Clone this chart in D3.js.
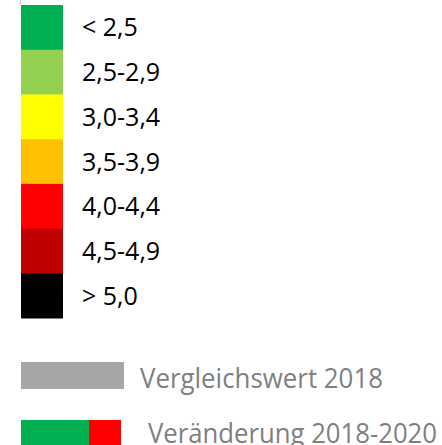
<!DOCTYPE html>
<html>
<head>
<meta charset="utf-8">
<script src="https://cdn.jsdelivr.net/npm/d3@7"></script>
<style>
  body { margin: 0; background: #fff; }
</style>
</head>
<body>
<script>
// legend classes
var classes = ['< 2,5', '2,5-2,9', '3,0-3,4', '3,5-3,9', '4,0-4,4', '4,5-4,9', '> 5,0']
var classColors = ['#00b050', '#92d050', '#ffff00', '#ffc000', '#ff0000', '#c00000', '#000000']

// bottom legend entries
var compareLabel = 'Vergleichswert 2018'
var compareColor = '#a6a6a6'
var changeLabel = 'Veränderung 2018-2020'
var changeParts = ['gut', 'schlecht']
var changeShares = [68, 32]
var changeColors = ['#00b050', '#ff0000']

var w = 442
var h = 445

var svg = d3.select('body')
  .append('svg')
  .attr('width', w)
  .attr('height', h)

var yScale = d3.scaleBand()
  .domain(classes)
  .range([5, 318])
  .padding(0)

// small tick above the bar
svg.append('line')
  .attr('x1', 20.5).attr('x2', 20.5)
  .attr('y1', 0).attr('y2', 4)
  .attr('stroke', '#d0d0d0')
  .attr('stroke-width', 1.5)

svg.selectAll('rect.cls')
  .data(classes)
  .enter()
  .append('rect')
  .attr('class', 'cls')
  .attr('x', 21)
  .attr('y', function (d) { return yScale(d) })
  .attr('width', 42)
  .attr('height', yScale.bandwidth() + 0.5)
  .attr('fill', function (d, i) { return classColors[i] })

svg.selectAll('text.cls')
  .data(classes)
  .enter()
  .append('text')
  .attr('class', 'cls')
  .text(function (d) { return d })
  .attr('x', 82)
  .attr('y', function (d) { return yScale(d) + yScale.bandwidth() / 2 + 9 })
  .attr('font-family', 'Open Sans, sans-serif')
  .attr('font-size', '25px')
  .attr('fill', '#000')
  .attr('xml:space', 'preserve')

// comparison value
svg.append('rect')
  .attr('x', 21)
  .attr('y', 362)
  .attr('width', 103)
  .attr('height', 27)
  .attr('fill', compareColor)

svg.append('text')
  .text(compareLabel)
  .attr('x', 140)
  .attr('y', 388)
  .attr('font-family', 'Open Sans, sans-serif')
  .attr('font-size', '27px')
  .attr('textLength', 243)
  .attr('lengthAdjust', 'spacingAndGlyphs')
  .attr('fill', '#7f7f7f')

// change 2018-2020
var xChange = d3.scaleLinear()
  .domain([0, d3.sum(changeShares)])
  .range([21, 121])

var cum = 0
var starts = changeShares.map(function (v) { var s = cum; cum += v; return s })

svg.selectAll('rect.chg')
  .data(changeParts)
  .enter()
  .append('rect')
  .attr('class', 'chg')
  .attr('x', function (d, i) { return xChange(starts[i]) })
  .attr('y', 420)
  .attr('width', function (d, i) { return xChange(starts[i] + changeShares[i]) - xChange(starts[i]) })
  .attr('height', 30)
  .attr('fill', function (d, i) { return changeColors[i] })

svg.append('text')
  .text(changeLabel)
  .attr('x', 148)
  .attr('y', 443)
  .attr('font-family', 'Open Sans, sans-serif')
  .attr('font-size', '27px')
  .attr('textLength', 289)
  .attr('lengthAdjust', 'spacingAndGlyphs')
  .attr('fill', '#7f7f7f')
</script>
</body>
</html>
